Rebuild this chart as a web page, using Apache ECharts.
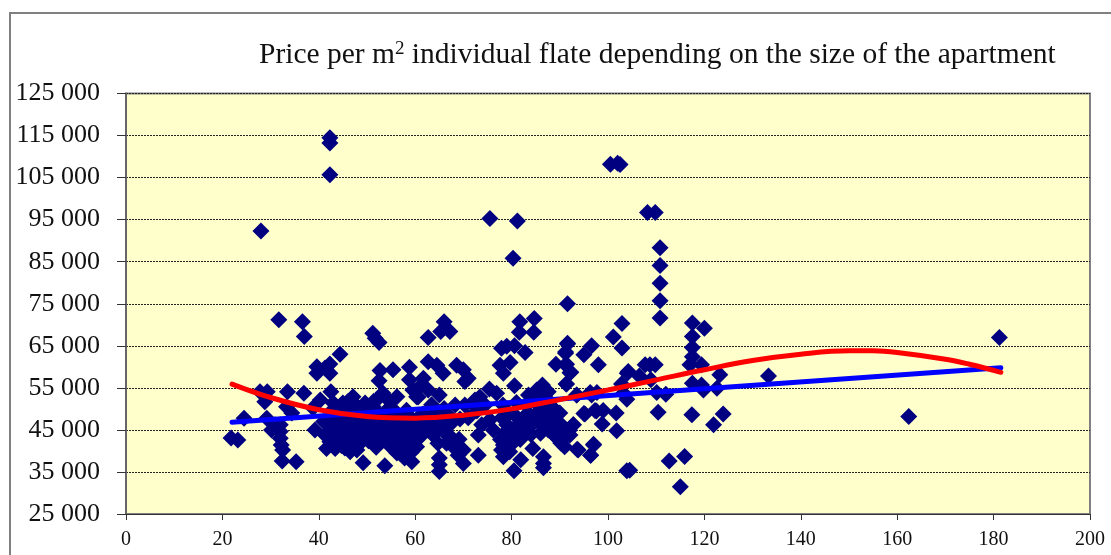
<!DOCTYPE html>
<html>
<head>
<meta charset="utf-8">
<style>html,body{margin:0;padding:0;background:#fff}#chart{width:1111px;height:555px}</style>
<script src="https://cdn.jsdelivr.net/npm/echarts@6/dist/echarts.min.js"></script>
</head>
<body>
<div id="chart"></div>
<script>
// flats: [size m2, price per m2]
var flats = [
[42.3,114500],[42.3,113200],[42.3,105700],[28,92300],[75.5,95300],[81.2,94700],[80.3,85800],[100.5,108200],[102,108400],[102.5,108100],
[108.2,96700],[109.8,96700],[110.8,88300],[110.8,84100],[110.8,79900],[110.8,75700],[110.8,71600],[91.6,75000],[102.9,70300],[101.1,67100],
[102.9,64500],[96.6,65000],[95,62900],[91.6,65400],[91.2,63200],[98,60500],[91.2,60500],[92.1,58600],[91.4,55900],[104.2,58900],
[104,58500],[106.5,57800],[107.7,60500],[108.7,60500],[109.8,60500],[108.9,56900],[102.8,55900],[103.2,53700],[103.9,52300],[110.1,53900],
[112,53500],[110.4,49200],[117.5,70400],[120,69200],[117.5,67200],[117.5,64600],[117.5,62400],[117,60500],[119.4,60500],[117.5,56100],
[119.4,55700],[119.8,54500],[123.2,58100],[122.6,54900],[117.4,48600],[123.9,48800],[121.9,46200],[115.9,38700],[112.7,37600],[115,31500],
[103.9,35300],[104.5,35400],[101.7,49000],[99,49600],[97.3,49600],[95.2,48800],[98.8,46400],[101.8,44800],[92.8,46200],[97,41600],
[96.4,39000],[93.6,40400],[93.5,53300],[96.3,53900],[97.7,53900],[133.3,57800],[162.4,48200],[181.2,67000],
[66,70700],[65.3,68400],[67.2,68400],[62.7,67000],[81.7,70700],[84.7,71500],[81.6,68200],[84.6,68200],[77.9,64400],[79,64900],
[80.6,65000],[82.8,63400],[77.6,60400],[79.7,61000],[78.3,58500],[80.6,55500],[91.6,65600],[91.2,63500],[89.2,60600],[91.4,60600],
[92.3,58700],[91.3,55900],[58.8,59900],[58.8,56900],[62.7,61200],[64.5,60400],[65.8,58500],[68.6,60400],[70,59300],[71,57300],
[70.3,56500],[61.7,57300],[62.7,54500],[60.6,52800],[65,53300],[61.3,55700],[75.4,54700],[73.4,52800],[76.9,53700],[68.3,50900],
[70.3,50900],[72.4,52100],[78.2,50900],[86.4,55700],[83.5,53300],[87.6,54100],[85.2,54500],[93.5,53300],[96.6,53300],[90,49000],
[92.8,46200],[88,48100],[87.3,46600],[87.6,45000],[90,46600],[90.7,43100],[92.1,43800],[93.8,40200],[91,41000],[97,41400],
[96.4,39000],[95,48900],[97.6,49500],[84.4,40600],[86.6,38600],[86.6,37000],[86.6,36000],[80.5,35300],[81.9,37900],[78.3,38600],
[77.9,40200],[78.3,41400],[80.7,44200],[79.3,43400],[83.1,45000],[84.2,46200],[81,48100],[83.4,49000],[79,46200],[84.5,48100],
[82.1,47400],[73.1,39000],[69.1,42800],[73.1,43800],[73.8,46200],[76.2,45000],[75.5,47400],[70,40200],[70,37000],[67.9,41000],
[68.9,39000],[66.5,41800],[65,38300],[65,36700],[65,35100],[63.7,43800],[62.7,45000],[65.8,45400],[67.2,46200],[63,47000],
[65.1,47400],[67.2,48100],[61,46600],[58.9,48100],[57.5,45800],[59.3,37400],[58.2,40200],[58.9,42200],[57.5,41900],[59.5,43800],
[56.8,39500],[31.7,71200],[36.6,70700],[37,67200],[51.2,68000],[51.7,66800],[52.5,65800],[44.4,63000],[39.6,60000],[42.3,60700],
[39.6,58500],[42.3,58500],[41.3,59700],[52.7,59100],[52.5,56700],[55.4,59300],[42.5,54100],[40.3,52100],[36.9,53700],[33.5,54100],
[29.3,54100],[27.8,54100],[28.8,51700],[33.3,50500],[34.4,49000],[24.5,47800],[29.2,47800],[21.8,43100],[23.2,42600],[30.2,45000],
[32,46200],[32,44600],[32,43000],[32.2,41400],[32.5,40200],[32.4,37600],[35.3,37400],[30.9,46200],[39.2,45000],[38.8,50200],
[41.6,40600],[43.4,40600],[46.5,39800],[45.4,40700],[47.9,40200],[49.2,37200],[53.7,36500],[51.9,40900],[42.3,42200],[44,42200],
[47.1,42200],[48.5,42600],[41.3,43800],[43.4,43800],[45.4,43800],[47.1,44300],[49.9,43800],[42.3,45800],[44.4,46200],[46.1,46200],
[48.5,46200],[43.4,48100],[45.4,48100],[47.1,47800],[49.9,47400],[43,51400],[45,51400],[47.1,52900],[46,51700],[49.6,51400],
[51.3,50500],[53.3,53800],[56.2,52900],[54.8,51700],[52,52100],[52,49000],[54.1,49700],[56.2,49000],[58.2,49700],[60.3,52900],
[59.5,54500],[53,46600],[54.8,46600],[56.8,45800],[54.8,43800],[53.3,42600],[56.2,41900],[57.5,40200],[58.2,43400],[60.3,44300],
[60.3,41000],[58.5,46600],[56.2,39500],[55.4,42200],
[41,47000],[42.8,49700],[44.6,49300],[46.4,49500],[48.2,49900],[50.4,49200],[41.8,44300],[43.2,45200],[44.9,44700],[46.8,45100],
[48.9,44800],[50.7,45600],[52.3,44200],[44.7,41300],[46.2,43000],[48,41200],[50.3,42400],[52.1,43100],[54.2,44900],[55.6,44000],
[57,43700],[55.9,47900],[57.2,47800],[53.4,48000],[50.9,47000],[48.8,48100],[51.4,51800],[47.9,50700],[44.6,50300],[54.9,50300],
[59.6,46300],[60.4,47600],[59.2,39700],[57.8,38300],[55.1,40800],[62,44800],[60.9,43200],[61.6,48800],[64.2,49200],[63.4,51000],
[66,50100],[64.2,45300],[66.4,44000],[67.5,43200],[64.7,41800],[67,48000],[69.3,47600],[71,47900],[72.8,49500],[74.5,50900],
[72,51000],[78,47900],[79.5,48900],[80.8,45700],[78.5,44200],[77.7,42700],[80.2,41800],[81.8,42700],[79.6,39800],[82.5,44900],
[85.5,50800],[83,50900],[81,51500],[86.4,49800],[85.5,47000],[86,44200],[84,43900],[88.9,49900],[88.6,44000],[89.4,46000],
[91.2,45100],[90.2,41900],[88.9,47700],[89.5,43000],[92,44900],[87.8,51800],[85.9,52600],[83.8,51900]
];
var linearTrend = [[22,46800],[181.5,59800]];
var polyTrend = [[22,55900],[30,52700],[40,49800],[50,48200],[60,47800],[70,48500],[80,50000],[90,52200],[100,54500],[110,56900],
[120,59300],[130,61500],[140,63000],[150,63800],[155,63800],[160,63400],[170,61800],[175,60600],[181.5,58700]];

var dom = document.getElementById('chart');
var myChart = echarts.init(dom);
var serif = '"Liberation Serif", serif';

var option = {
    animation: false,
    backgroundColor: '#fff',
    title: {
        text: '{a|Price per m}{s|2}{a| individual flate depending on the size of the apartment}',
        left: 254,
        top: 35,
        textStyle: {
            fontWeight: 'normal',
            rich: {
                a: {fontFamily: serif, fontSize: 29.5, fontWeight: 'normal', color: '#111'},
                s: {fontFamily: serif, fontSize: 19, fontWeight: 'normal', color: '#111', verticalAlign: 'top', padding: [0, 0, 10, 0]}
            }
        }
    },
    graphic: [{
        type: 'rect',
        shape: {x: 10, y: 13, width: 1200, height: 800},
        style: {fill: 'none', stroke: '#808080', lineWidth: 2}
    }],
    grid: {
        left: 126,
        right: 21,
        top: 93.5,
        bottom: 41,
        show: true,
        backgroundColor: '#FFFFCC',
        borderColor: '#808080',
        borderWidth: 2
    },
    xAxis: {
        type: 'value',
        min: 0,
        max: 200,
        interval: 20,
        axisLine: {onZero: false, lineStyle: {color: '#333', width: 1}},
        axisTick: {show: true, length: 6, lineStyle: {color: '#333'}},
        axisLabel: {fontFamily: serif, fontSize: 20, color: '#111', margin: 16},
        splitLine: {show: false}
    },
    yAxis: {
        type: 'value',
        min: 25000,
        max: 125000,
        interval: 10000,
        axisLine: {onZero: false, lineStyle: {color: '#666', width: 2}},
        axisTick: {show: true, length: 9, lineStyle: {color: '#333'}},
        axisLabel: {
            fontFamily: serif, fontSize: 26, color: '#111', margin: 26,
            formatter: function (v) { return String(v).replace(/(\d{3})$/, ' $1'); }
        },
        splitLine: {show: true, lineStyle: {color: '#222', type: [2, 1], width: 1}}
    },
    series: [
        {
            name: 'flats',
            type: 'scatter',
            symbol: 'diamond',
            symbolSize: 17,
            itemStyle: {color: '#000080', opacity: 1},
            data: flats,
            z: 2
        },
        {
            name: 'linear',
            type: 'line',
            showSymbol: false,
            lineStyle: {color: '#0000FF', width: 5, cap: 'round'},
            data: linearTrend,
            z: 3
        },
        {
            name: 'poly',
            type: 'line',
            smooth: 0.4,
            showSymbol: false,
            lineStyle: {color: '#FF0000', width: 5, cap: 'round'},
            data: polyTrend,
            z: 4
        }
    ]
};

if (option && typeof option === 'object') {
    myChart.setOption(option);
}
</script>
</body>
</html>
